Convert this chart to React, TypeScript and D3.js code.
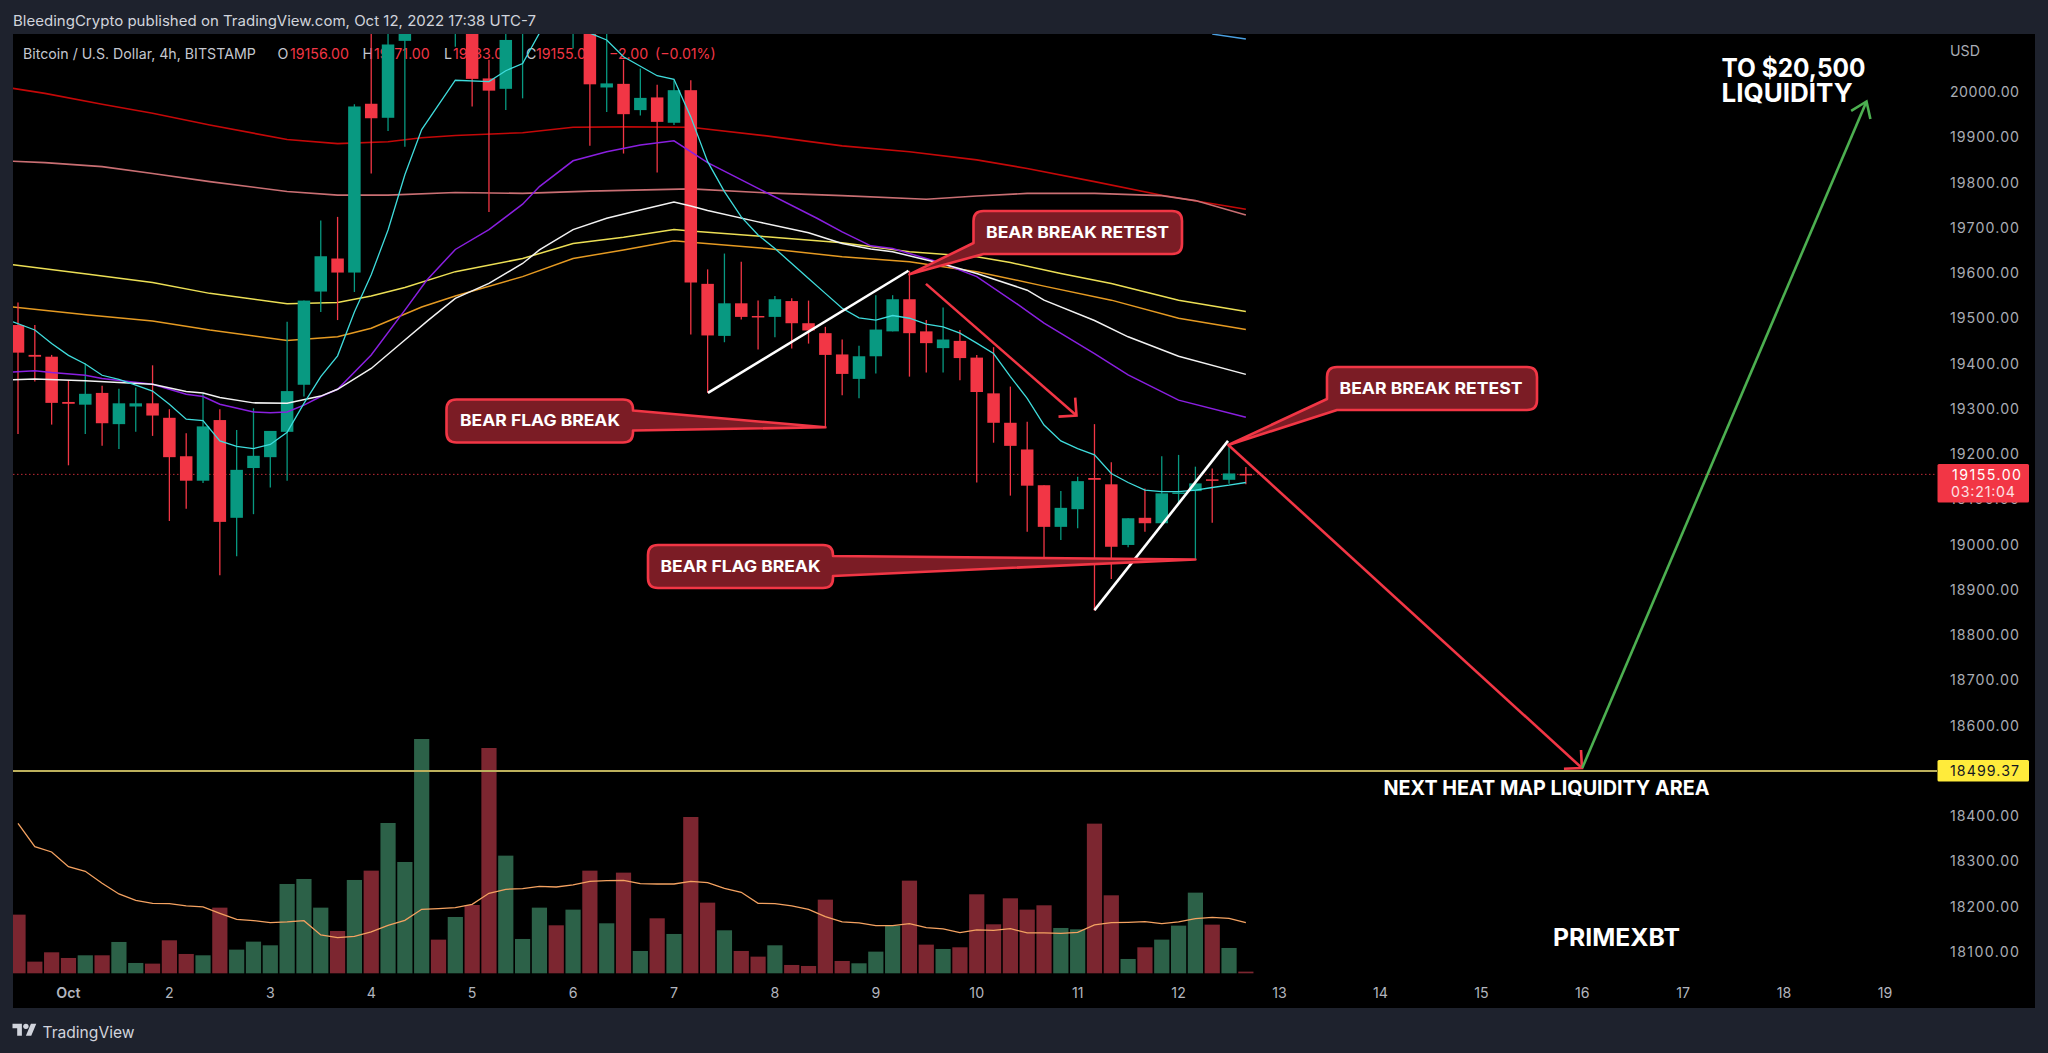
import React from "react";
import * as d3 from "d3";

// ---- candle data, bar 0 .. 73 (4h bars, bar 3 = Oct 1)
const opens = [19485,19419,19415,19315,19309,19335,19266,19305,19312,19280,19195,19141,19275,19059,19169,19193,19249,19353,19559,19632,19601,19974,19943,20113,20140,20230,20190,20200,20030,20007,20140,20180,20260,20190,20190,20010,20018,19960,19988,19932,20004,19576,19461,19533,19505,19503,19538,19489,19467,19420,19366,19416,19471,19542,19471,19434,19450,19413,19334,19269,19210,19131,19039,19078,19147,19133,18999,19059,19047,19113,19118,19144,19143,19156];
const highs = [19535,19485,19419,19363,19400,19351,19344,19347,19396,19299,19246,19334,19299,19253,19301,19251,19492,19539,19716,19724,19973,20140,20140,20200,20260,20260,20270,20240,20071,20150,20230,20280,20290,20280,20230,20150,20071,20052,20016,20026,20026,19608,19643,19625,19539,19549,19544,19539,19481,19453,19439,19551,19551,19605,19496,19524,19474,19419,19436,19349,19271,19131,19118,19150,19266,19182,19058,19124,19195,19198,19172,19168,19222,19171];
const lows = [19244,19360,19265,19175,19244,19218,19211,19249,19240,19052,19079,19136,18932,18974,19067,19126,19141,19327,19514,19496,19558,19820,19914,19879,20135,20135,20100,19968,19735,19960,19986,20140,20140,20096,19881,19956,19864,19948,19822,19927,19464,19335,19447,19497,19431,19458,19433,19444,19259,19330,19323,19378,19471,19371,19380,19380,19363,19137,19225,19108,19028,18962,19010,19036,18854,18924,18994,19028,19047,19091,18967,19048,19134,19133];
const closes = [19424,19415,19313,19311,19333,19268,19312,19312,19285,19193,19141,19261,19050,19165,19196,19251,19339,19539,19637,19601,19968,19942,20105,20180,20230,20180,20240,20029,20003,20115,20200,20260,20190,20260,20017,20019,19951,19987,19934,20004,19579,19462,19533,19503,19503,19542,19489,19473,19419,19377,19416,19475,19542,19467,19445,19453,19412,19337,19269,19218,19130,19039,19081,19140,19143,18995,19058,19047,19113,19115,19135,19141,19157,19155];

// ---- volume (arbitrary units) and its average
const volumes = [176,35,63,46,54,54,94,31,29,99,58,54,197,71,95,84,268,283,197,127,280,308,451,334,703,101,169,205,676,353,103,197,144,191,308,150,302,67,165,118,469,212,129,67,50,84,25,22,221,37,30,65,143,278,86,73,78,237,147,225,191,204,136,132,449,234,43,78,101,143,242,146,76,5];
const volumeAverage = [450,380,364,320,306,270,238,219,210,209,202,199,180,162,158,152,154,158,115,107,111,124,144,159,192,194,197,207,240,252,254,261,259,265,276,278,279,269,268,268,276,272,255,243,210,209,202,192,170,154,151,143,143,149,137,133,122,130,129,134,121,121,120,123,145,152,153,155,149,154,164,168,165,152];

// ---- moving averages as [bar, price] readings
const redAverage = [[-0.3,20008],[1.6,19997],[5,19973],[8,19953],[11.4,19927],[16,19895],[19,19886],[22,19890],[24,19899],[26,19904],[30,19910],[33,19922],[36,19923],[40,19922],[44.5,19903],[49,19881],[53,19868],[57,19850],[60,19831],[64,19802],[68,19772],[73,19741]];
const pinkAverage = [[-0.3,19847],[1.6,19844],[5,19835],[8,19820],[11.4,19802],[16,19780],[19,19772],[22,19772],[26,19778],[30,19776],[34,19781],[40,19786],[44.5,19777],[49,19771],[54,19763],[57,19770],[60,19776],[64,19776],[68,19771],[70,19760],[73,19728]];
const yellowAverage = [[-0.3,19618],[4.2,19597],[8,19579],[11.4,19555],[16,19532],[19,19535],[21,19549],[23,19568],[26,19603],[30,19632],[33,19665],[36,19679],[39,19696],[40,19693],[44.5,19680],[49,19667],[53,19647],[57,19636],[59,19623],[62,19599],[65,19577],[69,19540],[73,19515]];
const orangeAverage = [[-0.3,19525],[4.2,19507],[8,19494],[11.4,19474],[16,19451],[19,19459],[21,19478],[24,19525],[26,19549],[30,19592],[33,19632],[36,19651],[39,19671],[40,19668],[44.5,19654],[49,19636],[53,19625],[57,19603],[61,19571],[65,19540],[69,19500],[73,19475]];
const whiteAverage = [[-0.3,19364],[1,19366],[4,19362],[8,19354],[10,19338],[11,19335],[12,19325],[14,19313],[16,19312],[18,19328],[19,19343],[21,19389],[23,19452],[24.4,19496],[26,19544],[28,19577],[30,19621],[31,19651],[33,19696],[35,19721],[37,19739],[39,19757],[40,19748],[41,19738],[44,19713],[47,19689],[49,19665],[50.7,19653],[52,19647],[55,19620],[57,19599],[60,19562],[61,19540],[64,19495],[66,19459],[69,19416],[73,19376]];
const purpleAverage = [[-0.3,19381],[1,19384],[2,19380],[4,19374],[5,19367],[8,19354],[10,19332],[11,19327],[12,19310],[14,19293],[15,19291],[16,19293],[17,19308],[18,19327],[19,19343],[21,19419],[23,19518],[24.3,19584],[26,19652],[28,19696],[30,19752],[31,19791],[33,19848],[35,19868],[37,19883],[39,19892],[41,19844],[44,19787],[47.5,19721],[49,19691],[50.7,19660],[52,19654],[55,19621],[57,19592],[59.5,19529],[61,19489],[64,19422],[66,19375],[69,19319],[73,19281]];
const cyanAverage = [[-0.3,19492],[1,19474],[2,19444],[3,19418],[4,19399],[5,19374],[6,19365],[7,19352],[8,19339],[9,19310],[10,19277],[11,19274],[12,19229],[13,19217],[14,19212],[15,19221],[16,19248],[17,19312],[18,19371],[19,19417],[20,19514],[21,19596],[22,19695],[23,19817],[24,19917],[26,20026],[28,20023],[29,20047],[30,20063],[31,20130],[32,20190],[33,20190],[34,20130],[35,20115],[36,20078],[38,20036],[39,20028],[40,19945],[41,19846],[42,19780],[43,19724],[44,19684],[45,19654],[46,19621],[47,19588],[48,19555],[49,19522],[50,19501],[51,19496],[52,19506],[53,19500],[54,19487],[55,19481],[56,19467],[57,19445],[58,19422],[59,19371],[60,19323],[61,19264],[62,19229],[63,19212],[64,19198],[65,19157],[66,19137],[67,19120],[68,19117],[69,19117],[70,19120],[71,19126],[72,19131],[73,19137]];
const blueAverage = [[71,20128],[73,20117]];

// ---- axes
const priceTicks = [20000,19900,19800,19700,19600,19500,19400,19300,19200,19100,19000,18900,18800,18700,18600,18400,18300,18200,18100];
const dayTicks = [1,2,3,4,5,6,7,8,9,10,11,12,13,14,15,16,17,18,19];
const lastPrice = 19155;
const levelPrice = 18499.37;
const countdown = "03:21:04";

// ---- drawn annotations, anchored in [bar, price]
const whiteTrendA = [[41.02,19335],[52.94,19605]];
const whiteTrendB = [[64,18855],[71.94,19229]];
const redArrowShort = [[53.98,19576],[62.93,19285]];
const redArrowLong = [[71.96,19220],[92.98,18506]];
const greenArrow = [[93,18506],[109.9,19979]];

const legendParts: [string, number, boolean][] = [
  ["Bitcoin / U.S. Dollar, 4h, BITSTAMP", 23, false],
  ["O", 277.5, false], ["19156.00", 290, true],
  ["H", 362.5, false], ["19171.00", 374, true],
  ["L", 444, false], ["19133.00", 453, true],
  ["C", 526, false], ["19155.00", 536, true],
  ["−2.00", 609, true], ["(−0.01%)", 655, true],
];

const W = 2048, H = 1053;
const plot = { l: 13, t: 34, r: 2035, b: 1008 };
const FONT = "Inter, 'Noto Sans', sans-serif";
const RED = "#f23645", GREEN = "#089981";
const x = d3.scaleLinear().domain([0, 73]).range([18, 18 + 73 * 16.82]);
const y = d3.scaleLinear().domain([20000, 18100]).range([92, 951.75]);
const volY = d3.scaleLinear().domain([0, 703]).range([973.3, 739]);
const priceLine = d3.line<number[]>().x(d => x(d[0])).y(d => y(d[1]));
const volLine = d3.line<number>().x((_, i) => x(i)).y(d => volY(d));

function arrowHead(seg: number[][], len: number, spread: number) {
  const [a, b] = seg;
  const x1 = x(a[0]), y1 = y(a[1]), x2 = x(b[0]), y2 = y(b[1]);
  const ang = Math.atan2(y2 - y1, x2 - x1);
  const p = (s: number) => `${x2 - len * Math.cos(ang + s)},${y2 - len * Math.sin(ang + s)}`;
  return `M${p(spread)}L${x2},${y2}L${p(-spread)}`;
}

function cornerCallout(x0: number, y0: number, x1: number, y1: number, tip: number[]) {
  const r = 10;
  const tx = x(tip[0]), ty = y(tip[1]);
  return `M${x0 + r},${y0}H${x1 - r}Q${x1},${y0} ${x1},${y0 + r}V${y1 - r}Q${x1},${y1} ${x1 - r},${y1}H${x0 + 10}L${tx},${ty}L${x0},${y1 - 11}V${y0 + r}Q${x0},${y0} ${x0 + r},${y0}Z`;
}
function rightCallout(x0: number, y0: number, x1: number, y1: number, tip: number[]) {
  const r = 10;
  const tx = x(tip[0]), ty = y(tip[1]);
  return `M${x0 + r},${y0}H${x1 - r}Q${x1},${y0} ${x1},${y0 + r}V${y0 + 11}L${tx},${ty}L${x1},${y1 - 12}V${y1 - r}Q${x1},${y1} ${x1 - r},${y1}H${x0 + r}Q${x0},${y1} ${x0},${y1 - r}V${y0 + r}Q${x0},${y0} ${x0 + r},${y0}Z`;
}

const callouts = [
  { text: "BEAR BREAK RETEST", d: cornerCallout(973.5, 211, 1182, 254, [53, 19597]), cx: 1077.5, cy: 232, w: 183 },
  { text: "BEAR BREAK RETEST", d: cornerCallout(1327, 367, 1537, 410, [71.96, 19220]), cx: 1431, cy: 388, w: 183 },
  { text: "BEAR FLAG BREAK", d: rightCallout(446.5, 399.5, 633, 442.5, [48, 19259]), cx: 540, cy: 420.5, w: 160 },
  { text: "BEAR FLAG BREAK", d: rightCallout(648, 545, 833, 588, [70, 18967]), cx: 740.5, cy: 566, w: 160 },
];

export default function App() {
  const barW = 12.5, volW = 15.2;
  const up = (i: number) => closes[i] >= opens[i];
  return (
    <svg width={W} height={H} viewBox={`0 0 ${W} ${H}`} style={{ position: "absolute", left: 0, top: 0, display: "block" }}>
      <defs>
        <clipPath id="plot"><rect x={plot.l} y={plot.t} width={plot.r - plot.l} height={plot.b - plot.t} /></clipPath>
      </defs>
      <rect width={W} height={H} fill="#1e222d" />
      <rect x={plot.l} y={plot.t} width={plot.r - plot.l} height={plot.b - plot.t} fill="#000" />
      <text x={13} y={20} dominantBaseline="central" fontFamily={FONT} fontSize={14.2} fill="#d1d4dc" textLength={523} lengthAdjust="spacingAndGlyphs">BleedingCrypto published on TradingView.com, Oct 12, 2022 17:38 UTC-7</text>

      {legendParts.map(([t, lx, val], i) => (
        <text key={i} x={lx} y={53.5} dominantBaseline="central" fontFamily={FONT} fontSize={14.2} fill={val ? RED : "#c4c7cf"}>{t}</text>
      ))}

      <g clipPath="url(#plot)">
        {volumes.map((v, i) => (
          <rect key={i} x={x(i) - volW / 2} y={volY(v)} width={volW} height={volY(0) - volY(v)} fill={up(i) ? "#2c6148" : "#7c2630"} />
        ))}
        <path d={volLine(volumeAverage)!} fill="none" stroke="#f4a261" strokeWidth={1.3} />
        <line x1={plot.l} x2={1937} y1={y(levelPrice)} y2={y(levelPrice)} stroke="#bdb05c" strokeWidth={2} />
        <line x1={plot.l} x2={1937} y1={y(lastPrice)} y2={y(lastPrice)} stroke={RED} strokeWidth={1} strokeDasharray="1.5 2.5" opacity={0.8} />

        <path d={priceLine(redAverage as number[][])!} fill="none" stroke="#c40808" strokeWidth={1.6} />
        <path d={priceLine(pinkAverage as number[][])!} fill="none" stroke="#c96f73" strokeWidth={1.6} />
        <path d={priceLine(yellowAverage as number[][])!} fill="none" stroke="#ecdf55" strokeWidth={1.5} />
        <path d={priceLine(orangeAverage as number[][])!} fill="none" stroke="#e59a22" strokeWidth={1.5} />
        <path d={priceLine(blueAverage as number[][])!} fill="none" stroke="#4a9fe0" strokeWidth={1.5} />

        {opens.map((o, i) => {
          const c = closes[i];
          const col = up(i) ? GREEN : RED;
          const top = y(Math.max(o, c));
          const bot = y(Math.min(o, c));
          return (
            <g key={i}>
              <line x1={x(i)} x2={x(i)} y1={y(highs[i])} y2={y(lows[i])} stroke={col} strokeWidth={1.3} />
              <rect x={x(i) - barW / 2} y={top} width={barW} height={Math.max(bot - top, 1.5)} fill={col} />
            </g>
          );
        })}

        <path d={priceLine(purpleAverage as number[][])!} fill="none" stroke="#8a1fe0" strokeWidth={1.5} />
        <path d={priceLine(whiteAverage as number[][])!} fill="none" stroke="#f2f2f2" strokeWidth={1.5} />
        <path d={priceLine(cyanAverage as number[][])!} fill="none" stroke="#3fdcdc" strokeWidth={1.3} />

        <path d={priceLine(whiteTrendA as number[][])!} fill="none" stroke="#fff" strokeWidth={2.6} />
        <path d={priceLine(whiteTrendB as number[][])!} fill="none" stroke="#fff" strokeWidth={2.6} />
        <path d={priceLine(redArrowShort as number[][])!} fill="none" stroke={RED} strokeWidth={2.6} />
        <path d={arrowHead(redArrowShort as number[][], 18, 0.78)} fill="none" stroke={RED} strokeWidth={2.6} />
        <path d={priceLine(redArrowLong as number[][])!} fill="none" stroke={RED} strokeWidth={2.6} />
        <path d={arrowHead(redArrowLong as number[][], 18, 0.78)} fill="none" stroke={RED} strokeWidth={2.6} />
        <path d={priceLine(greenArrow as number[][])!} fill="none" stroke="#4caf50" strokeWidth={2.6} />
        <path d={arrowHead(greenArrow as number[][], 18, 0.62)} fill="none" stroke="#4caf50" strokeWidth={2.6} />

        {callouts.map((c, i) => (
          <g key={i}>
            <path d={c.d} fill="#7b1c25" stroke={RED} strokeWidth={2.6} strokeLinejoin="round" />
            <text x={c.cx} y={c.cy} textAnchor="middle" dominantBaseline="central" fontFamily={FONT} fontWeight={700} fontSize={15.5} fill="#fff" textLength={c.w} lengthAdjust="spacingAndGlyphs">{c.text}</text>
          </g>
        ))}

        <text x={1721.5} y={67.5} dominantBaseline="central" fontFamily={FONT} fontWeight={700} fontSize={26} fill="#fff" textLength={144} lengthAdjust="spacingAndGlyphs">TO $20,500</text>
        <text x={1721.5} y={92} dominantBaseline="central" fontFamily={FONT} fontWeight={700} fontSize={26} fill="#fff">LIQUIDITY</text>
        <text x={1383.5} y={788} dominantBaseline="central" fontFamily={FONT} fontWeight={700} fontSize={20} fill="#fff" textLength={326} lengthAdjust="spacingAndGlyphs">NEXT HEAT MAP LIQUIDITY AREA</text>
        <text x={1553} y={937} dominantBaseline="central" fontFamily={FONT} fontWeight={700} fontSize={24} fill="#fff" textLength={127} lengthAdjust="spacingAndGlyphs">PRIMEXBT</text>
      </g>

      <text x={1950} y={50} dominantBaseline="central" fontFamily={FONT} fontSize={14.2} fill="#a9acb4">USD</text>
      {priceTicks.map(p => (
        <text key={p} x={1950} y={y(p) - 0.5} dominantBaseline="central" fontFamily={FONT} fontSize={14.2} fill="#a9acb4" textLength={69} lengthAdjust="spacing">{p.toFixed(2)}</text>
      ))}

      <rect x={1937.5} y={464} width={91.5} height={38.5} rx={1.5} fill={RED} />
      <text x={1952} y={474} dominantBaseline="central" fontFamily={FONT} fontSize={14.2} fill="#fff" textLength={69}>{lastPrice.toFixed(2)}</text>
      <text x={1951} y={491.5} dominantBaseline="central" fontFamily={FONT} fontSize={14.2} fill="#fff" opacity={0.85} textLength={64}>{countdown}</text>
      <rect x={1937.5} y={760} width={91.5} height={21.5} rx={1.5} fill="#ffeb3b" />
      <text x={1950} y={770.5} dominantBaseline="central" fontFamily={FONT} fontSize={14.2} fill="#131722" textLength={69}>{levelPrice.toFixed(2)}</text>

      {dayTicks.map(d => (
        <text key={d} x={x(3 + (d - 1) * 6)} y={992.5} textAnchor="middle" dominantBaseline="central" fontFamily={FONT} fontSize={14.2} fontWeight={d === 1 ? 600 : 400} fill="#b2b5be">{d === 1 ? "Oct" : d}</text>
      ))}

      <g transform="translate(12.5,1021) scale(0.67)" fill="#d1d4dc">
        <path d="M14 22H7V11H0V4h14v18zM28 22h-8l7.5-18h8L28 22z" />
        <circle cx="20" cy="8" r="4" />
      </g>
      <text x={42.5} y={1032} dominantBaseline="central" fontFamily={FONT} fontSize={16} fill="#d1d4dc" textLength={92} lengthAdjust="spacingAndGlyphs">TradingView</text>
    </svg>
  );
}
